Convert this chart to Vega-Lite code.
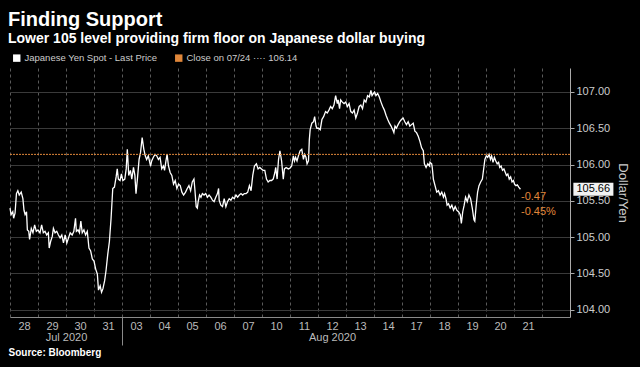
{
  "$schema": "https://vega.github.io/schema/vega-lite/v6.json",
  "width": 560,
  "height": 249,
  "autosize": "none",
  "padding": {"left": 10, "top": 68, "right": 70, "bottom": 50},
  "background": "#000000",
  "config": {"view": {"stroke": null}, "font": "Liberation Sans"},
  "title": {
    "text": "Finding Support",
    "subtitle": "Lower 105 level providing firm floor on Japanese dollar buying",
    "anchor": "start",
    "frame": "group",
    "font": "Liberation Sans",
    "fontSize": 20,
    "fontWeight": "bold",
    "color": "#ffffff",
    "subtitleFont": "Liberation Sans",
    "subtitleFontSize": 14,
    "subtitleFontWeight": "bold",
    "subtitleColor": "#ffffff",
    "subtitlePadding": 2,
    "offset": 7,
    "dx": -2
  },
  "datasets": {
    "yen": [
      {"t":0.00,"price":105.40},{"t":0.04,"price":105.31},{"t":0.10,"price":105.35},{"t":0.13,"price":105.26},{"t":0.18,"price":105.33},{"t":0.23,"price":105.60},{"t":0.28,"price":105.64},{"t":0.33,"price":105.58},{"t":0.40,"price":105.62},{"t":0.46,"price":105.53},{"t":0.50,"price":105.37},{"t":0.54,"price":105.31},{"t":0.59,"price":105.35},{"t":0.62,"price":105.10},{"t":0.67,"price":105.08},{"t":0.70,"price":104.97},{"t":0.76,"price":105.12},{"t":0.82,"price":105.06},{"t":0.88,"price":105.17},{"t":0.94,"price":105.08},{"t":1.00,"price":105.10},{"t":1.07,"price":105.06},{"t":1.13,"price":105.17},{"t":1.19,"price":105.06},{"t":1.25,"price":105.08},{"t":1.31,"price":105.03},{"t":1.37,"price":105.06},{"t":1.40,"price":104.85},{"t":1.45,"price":104.94},{"t":1.51,"price":105.01},{"t":1.55,"price":105.12},{"t":1.61,"price":105.06},{"t":1.67,"price":105.08},{"t":1.73,"price":105.03},{"t":1.79,"price":104.99},{"t":1.85,"price":105.03},{"t":1.91,"price":104.92},{"t":1.97,"price":105.03},{"t":2.03,"price":104.92},{"t":2.09,"price":104.99},{"t":2.15,"price":105.06},{"t":2.22,"price":105.03},{"t":2.28,"price":105.08},{"t":2.34,"price":105.26},{"t":2.37,"price":105.08},{"t":2.43,"price":105.10},{"t":2.48,"price":105.06},{"t":2.53,"price":105.22},{"t":2.58,"price":105.06},{"t":2.64,"price":105.10},{"t":2.70,"price":105.03},{"t":2.76,"price":105.08},{"t":2.82,"price":104.85},{"t":2.88,"price":104.81},{"t":2.94,"price":104.70},{"t":3.00,"price":104.67},{"t":3.06,"price":104.56},{"t":3.12,"price":104.49},{"t":3.16,"price":104.27},{"t":3.22,"price":104.33},{"t":3.27,"price":104.24},{"t":3.32,"price":104.29},{"t":3.38,"price":104.40},{"t":3.43,"price":104.54},{"t":3.49,"price":104.76},{"t":3.55,"price":104.94},{"t":3.61,"price":105.26},{"t":3.67,"price":105.67},{"t":3.73,"price":105.69},{"t":3.79,"price":105.83},{"t":3.83,"price":105.94},{"t":3.87,"price":105.80},{"t":3.93,"price":105.78},{"t":3.98,"price":105.87},{"t":4.03,"price":105.78},{"t":4.10,"price":105.80},{"t":4.15,"price":105.94},{"t":4.19,"price":106.21},{"t":4.24,"price":105.85},{"t":4.30,"price":105.92},{"t":4.35,"price":105.80},{"t":4.41,"price":105.96},{"t":4.46,"price":105.85},{"t":4.50,"price":105.60},{"t":4.55,"price":105.80},{"t":4.61,"price":106.07},{"t":4.66,"price":106.16},{"t":4.72,"price":106.37},{"t":4.78,"price":106.21},{"t":4.83,"price":106.12},{"t":4.88,"price":106.07},{"t":4.94,"price":106.12},{"t":5.02,"price":105.98},
      {"t":5.06,"price":106.05},{"t":5.12,"price":106.10},{"t":5.18,"price":106.14},{"t":5.24,"price":106.12},{"t":5.30,"price":106.07},{"t":5.36,"price":106.10},{"t":5.42,"price":105.94},{"t":5.48,"price":105.98},{"t":5.52,"price":105.92},{"t":5.57,"price":106.05},{"t":5.61,"price":106.14},{"t":5.66,"price":105.98},{"t":5.72,"price":105.89},{"t":5.78,"price":105.85},{"t":5.84,"price":105.73},{"t":5.90,"price":105.78},{"t":5.96,"price":105.67},{"t":6.02,"price":105.73},{"t":6.08,"price":105.71},{"t":6.14,"price":105.62},{"t":6.20,"price":105.58},{"t":6.27,"price":105.62},{"t":6.33,"price":105.67},{"t":6.39,"price":105.71},{"t":6.45,"price":105.64},{"t":6.51,"price":105.76},{"t":6.57,"price":105.80},{"t":6.60,"price":105.67},{"t":6.65,"price":105.42},{"t":6.69,"price":105.40},{"t":6.72,"price":105.49},{"t":6.77,"price":105.58},{"t":6.82,"price":105.55},{"t":6.87,"price":105.60},{"t":6.93,"price":105.58},{"t":6.99,"price":105.60},{"t":7.05,"price":105.55},{"t":7.11,"price":105.58},{"t":7.17,"price":105.55},{"t":7.23,"price":105.51},{"t":7.29,"price":105.49},{"t":7.35,"price":105.55},{"t":7.41,"price":105.60},{"t":7.45,"price":105.67},{"t":7.47,"price":105.51},{"t":7.53,"price":105.44},{"t":7.59,"price":105.42},{"t":7.65,"price":105.53},{"t":7.71,"price":105.42},{"t":7.77,"price":105.49},{"t":7.83,"price":105.53},{"t":7.89,"price":105.51},{"t":7.95,"price":105.55},{"t":8.01,"price":105.53},{"t":8.07,"price":105.58},{"t":8.13,"price":105.55},{"t":8.19,"price":105.58},{"t":8.25,"price":105.60},{"t":8.31,"price":105.58},{"t":8.37,"price":105.60},{"t":8.43,"price":105.60},{"t":8.49,"price":105.62},{"t":8.55,"price":105.71},{"t":8.61,"price":105.64},{"t":8.67,"price":105.85},{"t":8.73,"price":105.98},{"t":8.80,"price":106.01},{"t":8.86,"price":105.94},{"t":8.92,"price":105.96},{"t":8.98,"price":105.94},{"t":9.04,"price":105.92},{"t":9.10,"price":105.92},{"t":9.16,"price":105.80},{"t":9.22,"price":105.76},{"t":9.28,"price":105.78},{"t":9.34,"price":105.78},{"t":9.40,"price":105.80},{"t":9.46,"price":105.89},{"t":9.49,"price":105.96},{"t":9.54,"price":105.80},{"t":9.59,"price":106.07},{"t":9.64,"price":106.19},{"t":9.70,"price":106.05},{"t":9.76,"price":105.80},{"t":9.80,"price":105.94},{"t":9.86,"price":105.96},{"t":9.94,"price":105.94},
      {"t":10.00,"price":105.95},{"t":10.06,"price":105.98},{"t":10.12,"price":106.12},{"t":10.16,"price":106.05},{"t":10.20,"price":106.10},{"t":10.25,"price":106.05},{"t":10.30,"price":106.12},{"t":10.36,"price":106.19},{"t":10.42,"price":106.21},{"t":10.48,"price":106.07},{"t":10.52,"price":106.14},{"t":10.57,"price":106.10},{"t":10.61,"price":106.01},{"t":10.66,"price":106.05},{"t":10.69,"price":106.34},{"t":10.72,"price":106.48},{"t":10.78,"price":106.57},{"t":10.84,"price":106.59},{"t":10.88,"price":106.66},{"t":10.93,"price":106.53},{"t":10.96,"price":106.50},{"t":11.02,"price":106.50},{"t":11.08,"price":106.48},{"t":11.14,"price":106.62},{"t":11.20,"price":106.66},{"t":11.27,"price":106.73},{"t":11.33,"price":106.71},{"t":11.39,"price":106.75},{"t":11.45,"price":106.80},{"t":11.51,"price":106.77},{"t":11.57,"price":106.82},{"t":11.63,"price":106.95},{"t":11.69,"price":106.84},{"t":11.72,"price":106.89},{"t":11.77,"price":106.77},{"t":11.81,"price":106.89},{"t":11.87,"price":106.86},{"t":11.93,"price":106.84},{"t":11.99,"price":106.86},{"t":12.05,"price":106.80},{"t":12.11,"price":106.84},{"t":12.17,"price":106.73},{"t":12.23,"price":106.71},{"t":12.29,"price":106.75},{"t":12.35,"price":106.64},{"t":12.41,"price":106.71},{"t":12.47,"price":106.80},{"t":12.53,"price":106.82},{"t":12.59,"price":106.77},{"t":12.65,"price":106.89},{"t":12.71,"price":106.86},{"t":12.77,"price":106.95},{"t":12.83,"price":106.93},{"t":12.89,"price":107.02},{"t":12.93,"price":106.95},{"t":12.98,"price":106.98},{"t":13.02,"price":107.00},{"t":13.07,"price":106.95},{"t":13.13,"price":106.98},{"t":13.19,"price":106.93},{"t":13.25,"price":106.86},{"t":13.31,"price":106.80},{"t":13.37,"price":106.75},{"t":13.43,"price":106.68},{"t":13.49,"price":106.62},{"t":13.55,"price":106.57},{"t":13.61,"price":106.53},{"t":13.67,"price":106.48},{"t":13.71,"price":106.44},{"t":13.75,"price":106.53},{"t":13.80,"price":106.50},{"t":13.86,"price":106.55},{"t":13.92,"price":106.59},{"t":13.98,"price":106.62},{"t":14.04,"price":106.64},{"t":14.10,"price":106.59},{"t":14.16,"price":106.55},{"t":14.22,"price":106.59},{"t":14.28,"price":106.53},{"t":14.34,"price":106.55},{"t":14.40,"price":106.57},{"t":14.46,"price":106.46},{"t":14.52,"price":106.44},{"t":14.58,"price":106.39},{"t":14.64,"price":106.32},{"t":14.70,"price":106.23},{"t":14.76,"price":106.19},{"t":14.80,"price":106.01},{"t":14.86,"price":105.96},{"t":14.92,"price":106.01},{"t":14.98,"price":105.98},
      {"t":15.00,"price":106.03},{"t":15.06,"price":106.01},{"t":15.08,"price":105.96},{"t":15.12,"price":105.80},{"t":15.18,"price":105.71},{"t":15.24,"price":105.62},{"t":15.30,"price":105.64},{"t":15.36,"price":105.58},{"t":15.42,"price":105.62},{"t":15.48,"price":105.55},{"t":15.52,"price":105.60},{"t":15.57,"price":105.53},{"t":15.61,"price":105.44},{"t":15.66,"price":105.46},{"t":15.72,"price":105.40},{"t":15.78,"price":105.44},{"t":15.84,"price":105.37},{"t":15.90,"price":105.42},{"t":15.96,"price":105.37},{"t":16.02,"price":105.35},{"t":16.08,"price":105.31},{"t":16.12,"price":105.19},{"t":16.17,"price":105.35},{"t":16.22,"price":105.44},{"t":16.27,"price":105.55},{"t":16.33,"price":105.49},{"t":16.39,"price":105.58},{"t":16.45,"price":105.53},{"t":16.51,"price":105.40},{"t":16.57,"price":105.24},{"t":16.60,"price":105.22},{"t":16.65,"price":105.44},{"t":16.70,"price":105.62},{"t":16.75,"price":105.71},{"t":16.81,"price":105.76},{"t":16.87,"price":105.80},{"t":16.93,"price":105.98},{"t":16.96,"price":106.07},{"t":17.01,"price":106.12},{"t":17.06,"price":106.10},{"t":17.11,"price":106.14},{"t":17.16,"price":106.07},{"t":17.20,"price":106.12},{"t":17.25,"price":106.03},{"t":17.30,"price":106.10},{"t":17.35,"price":106.05},{"t":17.40,"price":106.01},{"t":17.45,"price":106.03},{"t":17.49,"price":105.96},{"t":17.54,"price":105.98},{"t":17.59,"price":105.92},{"t":17.64,"price":105.94},{"t":17.69,"price":105.89},{"t":17.73,"price":105.85},{"t":17.78,"price":105.87},{"t":17.83,"price":105.80},{"t":17.88,"price":105.83},{"t":17.93,"price":105.76},{"t":17.98,"price":105.78},{"t":18.02,"price":105.73},{"t":18.07,"price":105.71},{"t":18.12,"price":105.72},{"t":18.17,"price":105.69},{"t":18.23,"price":105.66}
    ],
    "close": [{"t":0,"price":106.14},{"t":20,"price":106.14}],
    "change": [{"t":18.25,"price":105.55,"label":"-0.47"},{"t":18.25,"price":105.35,"label":"-0.45%"}],
    "tag": [{"t":20.12,"t2":21.55,"price":105.57,"price2":105.75,"label":"105.66","tc":20.83,"pc":105.66}]
  },
  "resolve": {"scale": {"x": "independent"}, "axis": {"x": "independent"}},
  "layer": [
    {
      "data": {"name": "yen"},
      "mark": {"type": "line", "strokeWidth": 1.3},
      "encoding": {
        "x": {
          "field": "t", "type": "quantitative",
          "scale": {"domain": [0, 20], "nice": false, "zero": false},
          "axis": {
            "orient": "bottom",
            "values": [0,1,2,3,4,5,6,7,8,9,10,11,12,13,14,15,16,17,18,19],
            "labelExpr": "['28','29','30','31','03','04','05','06','07','10','11','12','13','14','17','18','19','20','21',''][datum.value]",
            "labelOffset": 14,
            "grid": true, "gridDash": [3, 3], "gridColor": "#5a5a5a", "gridWidth": 1,
            "ticks": false,
            "domainColor": "#8a8a8a",
            "labelColor": "#bbbbbb", "labelFontSize": 11, "labelPadding": 3,
            "labelFlush": false, "labelOverlap": false, "labelBound": false,
            "title": null
          }
        },
        "y": {
          "field": "price", "type": "quantitative",
          "scale": {"domain": [103.9, 107.33], "nice": false, "zero": false},
          "axis": {
            "orient": "right",
            "values": [104, 104.5, 105, 105.5, 106, 106.5, 107],
            "format": ".2f",
            "grid": true, "gridColor": "#3a3a3a", "gridWidth": 1,
            "domainColor": "#aaaaaa", "tickColor": "#aaaaaa", "tickSize": 4,
            "labelColor": "#cccccc", "labelFontSize": 11, "labelPadding": 2,
            "title": "Dollar/Yen", "titleAngle": 90, "titleColor": "#cccccc",
            "titleFontSize": 13, "titleFontWeight": "normal", "titlePadding": 6
          }
        },
        "color": {
          "datum": "Japanese Yen Spot - Last Price", "type": "nominal",
          "scale": {"domain": ["Japanese Yen Spot - Last Price", "Close on 07/24 ···· 106.14"], "range": ["#ffffff", "#e0873a"]},
          "legend": {
            "title": null, "orient": "none", "legendX": 2, "legendY": -15,
            "direction": "horizontal", "symbolType": "square", "symbolSize": 55,
            "labelFontSize": 9.5, "labelColor": "#cccccc", "columnPadding": 16, "labelOffset": 3,
            "encode": {"symbols": {"update": {"fill": {"scale": "color", "field": "value"}, "strokeWidth": {"value": 0}}}}
          }
        }
      }
    },
    {
      "data": {"name": "close"},
      "mark": {"type": "line", "strokeWidth": 1, "strokeDash": [2, 1]},
      "encoding": {
        "x": {
          "field": "t", "type": "quantitative",
          "scale": {"domain": [0, 20], "nice": false, "zero": false},
          "axis": {
            "orient": "bottom",
            "values": [2, 4, 11.5],
            "labelExpr": "datum.value == 2 ? 'Jul 2020' : datum.value == 11.5 ? 'Aug 2020' : ''",
            "domain": false, "grid": false, "ticks": true, "tickSize": 28,
            "tickColor": {"condition": {"test": "datum.value == 4", "value": "#8a8a8a"}, "value": "transparent"},
            "labelPadding": -14, "labelColor": "#bbbbbb", "labelFontSize": 11,
            "labelFlush": false, "labelOverlap": false, "labelBound": false,
            "title": "Source: Bloomberg", "titleAnchor": "start", "titleAlign": "left",
            "titleX": -2, "titleY": 38, "titleColor": "#ffffff", "titleFontSize": 10,
            "titleFontWeight": "bold", "titleBaseline": "alphabetic"
          }
        },
        "y": {"field": "price", "type": "quantitative"},
        "color": {"datum": "Close on 07/24 ···· 106.14", "type": "nominal"}
      }
    },
    {
      "data": {"name": "change"},
      "mark": {"type": "text", "align": "left", "baseline": "middle", "fontSize": 11, "color": "#e0873a"},
      "encoding": {
        "x": {"field": "t", "type": "quantitative", "scale": {"domain": [0, 20], "nice": false, "zero": false}, "axis": null},
        "y": {"field": "price", "type": "quantitative"},
        "text": {"field": "label"}
      }
    },
    {
      "data": {"name": "tag"},
      "mark": {"type": "rect", "fill": "#f2f2f2", "clip": false},
      "encoding": {
        "x": {"field": "t", "type": "quantitative", "scale": {"domain": [0, 20], "nice": false, "zero": false}, "axis": null},
        "x2": {"field": "t2"},
        "y": {"field": "price", "type": "quantitative"},
        "y2": {"field": "price2"}
      }
    },
    {
      "data": {"name": "tag"},
      "mark": {"type": "text", "align": "center", "baseline": "middle", "fontSize": 11, "color": "#000000", "clip": false},
      "encoding": {
        "x": {"field": "tc", "type": "quantitative", "scale": {"domain": [0, 20], "nice": false, "zero": false}, "axis": null},
        "y": {"field": "pc", "type": "quantitative"},
        "text": {"field": "label"}
      }
    }
  ]
}
